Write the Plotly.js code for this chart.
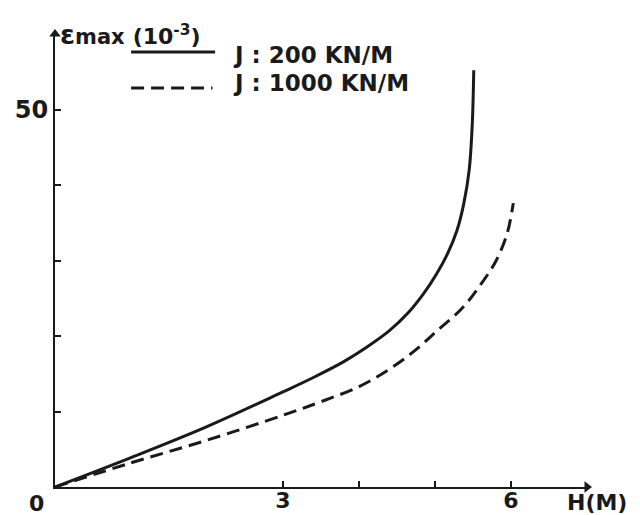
<!DOCTYPE html>
<html>
<head>
<meta charset="utf-8">
<script src="https://cdn.plot.ly/plotly-3.0.1.min.js"></script>
<style>
  html, body { margin: 0; padding: 0; background: #fff; }
  #chart { width: 640px; height: 515px; }
</style>
</head>
<body>
<div id="chart"></div>
<script>
// Series names
const seriesNames = ['J : 200 KN/M', 'J : 1000 KN/M'];

// J = 200 kN/m (solid)
const h200 = [0, 1, 2, 3, 3.4, 3.8, 4.1, 4.4, 4.65, 4.85, 5.02, 5.17, 5.29, 5.38, 5.45, 5.49, 5.51];
const eps200 = [0, 3.9, 8.0, 12.6, 14.5, 16.6, 18.5, 20.7, 23.1, 25.6, 28.2, 31.0, 34.0, 37.6, 42.0, 48.0, 55.2];

// J = 1000 kN/m (dashed)
const h1000 = [0, 1, 2, 3, 3.5, 4.0, 4.4, 4.75, 5.05, 5.35, 5.6, 5.8, 5.95, 6.03];
const eps1000 = [0, 3.2, 6.2, 9.5, 11.3, 13.3, 15.6, 18.2, 20.9, 23.6, 26.8, 29.9, 33.6, 37.6];

// Axis ticks
const xTickVals = [3, 6];
const xTickText = ['3', '6'];
const xMinorVals = [4, 5];
const yTickVals = [50];
const yTickText = ['50'];
const yMinorVals = [10, 20, 30, 40];
const xRange = [0, 7];
const yRange = [0, 60];

const ink = '#1a1a1a';
const fontFam = 'DejaVu Sans, Liberation Sans, Arial, sans-serif';
const dashPat = '13px,7px';

const traces = [
  { x: h200, y: eps200, mode: 'lines', name: seriesNames[0],
    line: { color: ink, width: 3, shape: 'spline', smoothing: 1 }, showlegend: false },
  { x: h1000, y: eps1000, mode: 'lines', name: seriesNames[1],
    line: { color: ink, width: 3, dash: dashPat, shape: 'spline', smoothing: 1 }, showlegend: false },
  // axis arrowheads at the ends of the axes
  { x: [0], y: [yRange[1]], mode: 'markers', hoverinfo: 'skip', showlegend: false, cliponaxis: false,
    marker: { symbol: 'triangle-up', size: 10, color: ink } },
  { x: [xRange[1]], y: [0], mode: 'markers', hoverinfo: 'skip', showlegend: false, cliponaxis: false,
    marker: { symbol: 'triangle-right', size: 10, color: ink } }
];

const baseFont = { family: fontFam, size: 23, color: ink, weight: 'bold' };
const tickFont = { family: fontFam, size: 22, color: ink, weight: 'bold' };

const layout = {
  width: 640, height: 515,
  margin: { l: 55, r: 53, t: 34, b: 28, pad: 0 },
  paper_bgcolor: '#fff', plot_bgcolor: '#fff',
  font: baseFont,
  xaxis: {
    range: xRange, showgrid: false, zeroline: false,
    showline: true, linecolor: ink, linewidth: 2,
    ticks: 'inside', ticklen: 6, tickwidth: 2, tickcolor: ink,
    tickmode: 'array', tickvals: xTickVals, ticktext: xTickText,
    ticklabelstandoff: -7,
    minor: { tickmode: 'array', tickvals: xMinorVals, ticks: 'inside', ticklen: 6, tickwidth: 2, tickcolor: ink, showgrid: false },
    tickfont: tickFont, fixedrange: true
  },
  yaxis: {
    range: yRange, showgrid: false, zeroline: false,
    showline: true, linecolor: ink, linewidth: 2,
    ticks: 'inside', ticklen: 6, tickwidth: 2, tickcolor: ink,
    tickmode: 'array', tickvals: yTickVals, ticktext: yTickText,
    minor: { tickmode: 'array', tickvals: yMinorVals, ticks: 'inside', ticklen: 6, tickwidth: 2, tickcolor: ink, showgrid: false },
    tickfont: { family: fontFam, size: 24, color: ink, weight: 'bold' }, fixedrange: true
  },
  shapes: [
    { type: 'line', xref: 'paper', yref: 'paper', x0: 0.143, x1: 0.301, y0: 0.960, y1: 0.960,
      line: { color: ink, width: 3 } },
    { type: 'line', xref: 'paper', yref: 'paper', x0: 0.143, x1: 0.296, y0: 0.881, y1: 0.881,
      line: { color: ink, width: 3, dash: dashPat } }
  ],
  annotations: [
    // legend texts
    { xref: 'paper', yref: 'paper', x: 0.330, y: 0.954, xanchor: 'left', yanchor: 'middle',
      text: seriesNames[0], showarrow: false, font: baseFont },
    { xref: 'paper', yref: 'paper', x: 0.330, y: 0.892, xanchor: 'left', yanchor: 'middle',
      text: seriesNames[1], showarrow: false, font: baseFont },
    // y-axis title
    { xref: 'x', yref: 'y', x: 0, y: yRange[1], xanchor: 'left', yanchor: 'middle', xshift: 3, yshift: 0,
      text: '<span style="font-size:27px">ε</span><span style="font-size:21px">max</span> <span style="font-size:22px">(10<sup>-3</sup>)</span>',
      showarrow: false, font: baseFont },
    // x-axis title
    { xref: 'x', yref: 'y', x: xRange[1], y: 0, xanchor: 'center', yanchor: 'top', xshift: 10, yshift: -1,
      text: 'H(M)', showarrow: false, font: tickFont },
    // origin label
    { xref: 'x', yref: 'y', x: 0, y: 0, xanchor: 'center', yanchor: 'top', xshift: -19, yshift: -2,
      text: '0', showarrow: false, font: tickFont }
  ]
};

Plotly.newPlot('chart', traces, layout, { displayModeBar: false, staticPlot: true });
</script>
</body>
</html>
